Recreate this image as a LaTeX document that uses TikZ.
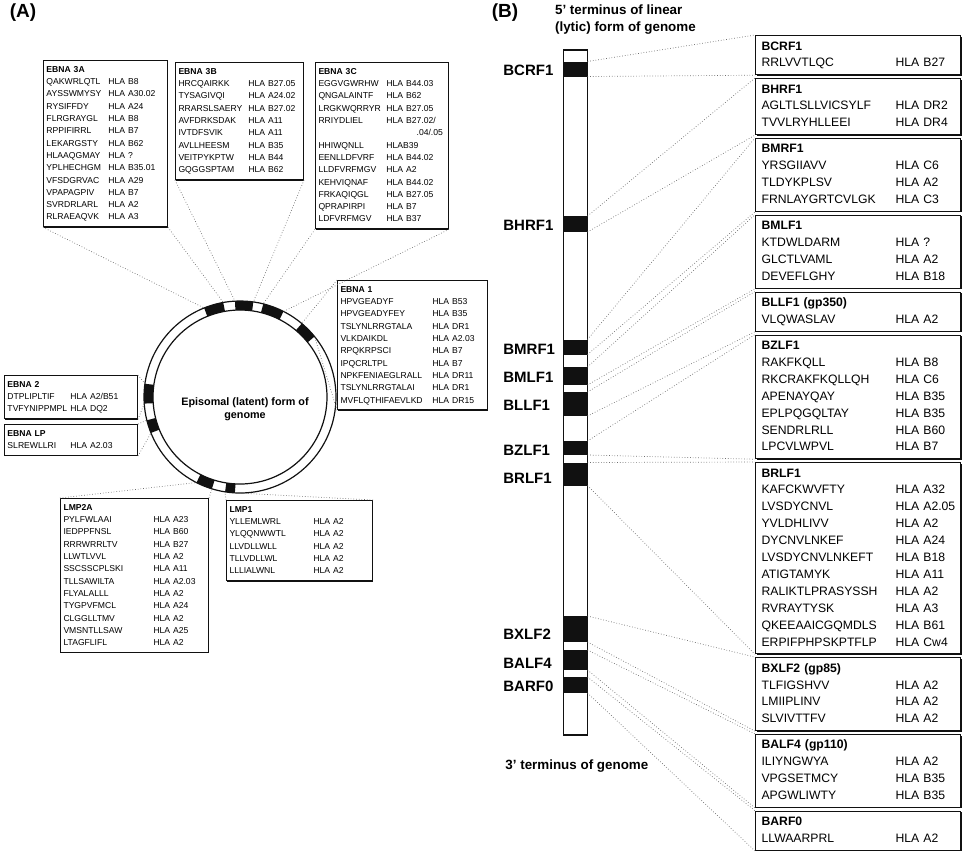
\documentclass[tikz,border=0pt]{standalone}
\usepackage{fontspec}
\setmainfont{Liberation Sans}
\usepackage{xcolor}
\usepackage{tikz}
\usetikzlibrary{shadows}
\definecolor{hlaInk}{HTML}{111111}
\definecolor{leadGray}{HTML}{6E6E6E}
\tikzset{
  lbox/.style={draw=hlaInk, fill=white, line width=0.5pt, anchor=north west, inner xsep=1.5pt, inner ysep=1.6pt,
    drop shadow={shadow xshift=0.45pt, shadow yshift=-0.45pt, fill=hlaInk, opacity=1},
    font=\fontsize{4.3pt}{6.15pt}\selectfont},
  rbox/.style={draw=hlaInk, fill=white, line width=0.6pt, anchor=north west, inner xsep=3pt, inner ysep=1.3pt, text width=96.5pt,
    drop shadow={shadow xshift=0.5pt, shadow yshift=-0.5pt, fill=hlaInk, opacity=1},
    font=\fontsize{6.1pt}{8.45pt}\selectfont},
  lead/.style={leadGray, densely dotted, line width=0.35pt},
  band/.style={fill=hlaInk, inner sep=0pt, outer sep=0pt, minimum width=12pt},
  genename/.style={anchor=west, inner xsep=0pt, font=\bfseries\fontsize{7.5pt}{9pt}\selectfont},
  panellbl/.style={font=\bfseries\fontsize{9.5pt}{11pt}\selectfont},
}
\newcommand{\genehead}[1]{\multicolumn{2}{@{}l@{}}{\bfseries #1}}

\begin{document}
\begin{tikzpicture}[x=0.5pt, y=-0.5pt]
  \useasboundingbox (0,0) rectangle (965,859);

  % (A) episomal genome
  \node[panellbl] (labA) at (23,13) {(A)};
  \coordinate (ctr) at (240,397);
  \draw[hlaInk, line width=0.6pt] (ctr) circle (96);
  \draw[hlaInk, line width=0.6pt] (ctr) circle (87);
  \draw[hlaInk, line width=4.5pt] (ctr) ++(-112:91.5) arc[start angle=-112, end angle=-100, radius=91.5];
  \draw[hlaInk, line width=4.5pt] (ctr) ++(-93:91.5) arc[start angle=-93, end angle=-82, radius=91.5];
  \draw[hlaInk, line width=4.5pt] (ctr) ++(-76:91.5) arc[start angle=-76, end angle=-63, radius=91.5];
  \draw[hlaInk, line width=4.5pt] (ctr) ++(-50:91.5) arc[start angle=-50, end angle=-39, radius=91.5];
  \draw[hlaInk, line width=4.5pt] (ctr) ++(-184:91.5) arc[start angle=-184, end angle=-172, radius=91.5];
  \draw[hlaInk, line width=4.5pt] (ctr) ++(-202:91.5) arc[start angle=-202, end angle=-194, radius=91.5];
  \draw[hlaInk, line width=4.5pt] (ctr) ++(-253:91.5) arc[start angle=-253, end angle=-243, radius=91.5];
  \draw[hlaInk, line width=4.5pt] (ctr) ++(-267:91.5) arc[start angle=-267, end angle=-261, radius=91.5];
  \node[font=\bfseries\fontsize{5.4pt}{6.3pt}\selectfont, align=center] (epi) at (245,409) {Episomal (latent) form of\\genome};

  \path (ctr) ++(-112:96) coordinate (e3aL);
  \path (ctr) ++(-100:96) coordinate (e3aR);
  \path (ctr) ++(-93:96) coordinate (e3bL);
  \path (ctr) ++(-82:96) coordinate (e3bR);
  \path (ctr) ++(-76:96) coordinate (e3cL);
  \path (ctr) ++(-63:96) coordinate (e3cR);
  \path (ctr) ++(-50:96) coordinate (e1T);
  \path (ctr) ++(-39:96) coordinate (e1B);
  \path (ctr) ++(-172:96) coordinate (e2T);
  \path (ctr) ++(-184:96) coordinate (e2B);
  \path (ctr) ++(-194:96) coordinate (lpT);
  \path (ctr) ++(-202:96) coordinate (lpB);
  \path (ctr) ++(-243:96) coordinate (lmp2L);
  \path (ctr) ++(-253:96) coordinate (lmp2R);
  \path (ctr) ++(-261:96) coordinate (lmp1L);
  \path (ctr) ++(-267:96) coordinate (lmp1R);

  \node[lbox, text width=59pt] (ebna3a) at (43,60) {\begin{tabular}{@{}p{31pt}@{}l@{}}
    \genehead{EBNA 3A}\\
    QAKWRLQTL & HLA B8\\
    AYSSWMYSY & HLA A30.02\\
    RYSIFFDY & HLA A24\\
    FLRGRAYGL & HLA B8\\
    RPPIFIRRL & HLA B7\\
    LEKARGSTY & HLA B62\\
    HLAAQGMAY & HLA ?\\
    YPLHECHGM & HLA B35.01\\
    VFSDGRVAC & HLA A29\\
    VPAPAGPIV & HLA B7\\
    SVRDRLARL & HLA A2\\
    RLRAEAQVK & HLA A3
  \end{tabular}};
  \node[lbox, text width=61pt] (ebna3b) at (175,62) {\begin{tabular}{@{}p{35pt}@{}l@{}}
    \genehead{EBNA 3B}\\
    HRCQAIRKK & HLA B27.05\\
    TYSAGIVQI & HLA A24.02\\
    RRARSLSAERY & HLA B27.02\\
    AVFDRKSDAK & HLA A11\\
    IVTDFSVIK & HLA A11\\
    AVLLHEESM & HLA B35\\
    VEITPYKPTW & HLA B44\\
    GQGGSPTAM & HLA B62
  \end{tabular}};
  \node[lbox, text width=63.5pt] (ebna3c) at (315,62) {\begin{tabular}{@{}p{34pt}@{}l@{}}
    \genehead{EBNA 3C}\\
    EGGVGWRHW & HLA B44.03\\
    QNGALAINTF & HLA B62\\
    LRGKWQRRYR & HLA B27.05\\
    RRIYDLIEL & HLA B27.02/\\
     & \phantom{HLA B2}.04/.05\\
    HHIWQNLL & HLAB39\\
    EENLLDFVRF & HLA B44.02\\
    LLDFVRFMGV & HLA A2\\
    KEHVIQNAF & HLA B44.02\\
    FRKAQIQGL & HLA B27.05\\
    QPRAPIRPI & HLA B7\\
    LDFVRFMGV & HLA B37
  \end{tabular}};
  \node[lbox, text width=72pt] (ebna1) at (337,280) {\begin{tabular}{@{}p{46pt}@{}l@{}}
    \genehead{EBNA 1}\\
    HPVGEADYF & HLA B53\\
    HPVGEADYFEY & HLA B35\\
    TSLYNLRRGTALA & HLA DR1\\
    VLKDAIKDL & HLA A2.03\\
    RPQKRPSCI & HLA B7\\
    IPQCRLTPL & HLA B7\\
    NPKFENIAEGLRALL & HLA DR11\\
    TSLYNLRRGTALAI & HLA DR1\\
    MVFLQTHIFAEVLKD & HLA DR15
  \end{tabular}};
  \node[lbox, text width=63.5pt] (ebna2) at (4,375) {\begin{tabular}{@{}p{31.5pt}@{}l@{}}
    \genehead{EBNA 2}\\
    DTPLIPLTIF & HLA A2/B51\\
    TVFYNIPPMPL & HLA DQ2
  \end{tabular}};
  \node[lbox, text width=63.5pt] (ebnalp) at (4,424) {\begin{tabular}{@{}p{31.5pt}@{}l@{}}
    \genehead{EBNA LP}\\
    SLREWLLRI & HLA A2.03
  \end{tabular}};
  \node[lbox, text width=71pt] (lmp2a) at (60,498) {\begin{tabular}{@{}p{45pt}@{}l@{}}
    \genehead{LMP2A}\\
    PYLFWLAAI & HLA A23\\
    IEDPPFNSL & HLA B60\\
    RRRWRRLTV & HLA B27\\
    LLWTLVVL & HLA A2\\
    SSCSSCPLSKI & HLA A11\\
    TLLSAWILTA & HLA A2.03\\
    FLYALALLL & HLA A2\\
    TYGPVFMCL & HLA A24\\
    CLGGLLTMV & HLA A2\\
    VMSNTLLSAW & HLA A25\\
    LTAGFLIFL & HLA A2
  \end{tabular}};
  \node[lbox, text width=70pt] (lmp1) at (226,500) {\begin{tabular}{@{}p{42pt}@{}l@{}}
    \genehead{LMP1}\\
    YLLEMLWRL & HLA A2\\
    YLQQNWWTL & HLA A2\\
    LLVDLLWLL & HLA A2\\
    TLLVDLLWL & HLA A2\\
    LLLIALWNL & HLA A2
  \end{tabular}};

  \draw[lead] (ebna3a.south west) -- (e3aL);
  \draw[lead] (ebna3a.south east) -- (e3aR);
  \draw[lead] (ebna3b.south west) -- (e3bL);
  \draw[lead] (ebna3b.south east) -- (e3bR);
  \draw[lead] (ebna3c.south west) -- (e3cL);
  \draw[lead] (ebna3c.south east) -- (e3cR);
  \draw[lead] (ebna1.north west) -- (e1T);
  \draw[lead] (ebna1.south west) -- (e1B);
  \draw[lead] (ebna2.north east) -- (e2T);
  \draw[lead] (ebna2.south east) -- (e2B);
  \draw[lead] (ebnalp.north east) -- (lpT);
  \draw[lead] (ebnalp.south east) -- (lpB);
  \draw[lead] (lmp2a.north west) -- (lmp2L);
  \draw[lead] (lmp2a.north east) -- (lmp2R);
  \draw[lead] (lmp1.north west) -- (lmp1L);
  \draw[lead] (lmp1.north east) -- (lmp1R);

  % (B) linear genome
  \node[panellbl] (labB) at (505,13) {(B)};
  \node[anchor=west, align=left, font=\bfseries\fontsize{6.7pt}{8.5pt}\selectfont] (fiveend) at (548,20) {5' terminus of linear\\(lytic) form of genome};
  \node[anchor=west, inner xsep=0pt, font=\bfseries\fontsize{6.7pt}{8.5pt}\selectfont] (threeend) at (505,766) {3' terminus of genome};
  \node[draw=hlaInk, line width=0.75pt, minimum width=12pt, minimum height=342.5pt, inner sep=0pt] (bar) at (575.5,392.5) {};

  \node[band, minimum height=7.5pt] (bcrf) at (575.5,69) {};
  \node[band, minimum height=8pt] (bhrf) at (575.5,224) {};
  \node[band, minimum height=7.5pt] (bmrf) at (575.5,347) {};
  \node[band, minimum height=9pt] (bmlf) at (575.5,376) {};
  \node[band, minimum height=12pt] (bllf) at (575.5,404) {};
  \node[band, minimum height=7pt] (bzlf) at (575.5,448) {};
  \node[band, minimum height=11.5pt] (brlf) at (575.5,474) {};
  \node[band, minimum height=13pt] (bxlf) at (575.5,629) {};
  \node[band, minimum height=10pt] (balf) at (575.5,660) {};
  \node[band, minimum height=8pt] (barf) at (575.5,685) {};

  \node[genename] (bcrfname) at (503,70) {BCRF1};
  \node[genename] (bhrfname) at (503,225) {BHRF1};
  \node[genename] (bmrfname) at (503,349) {BMRF1};
  \node[genename] (bmlfname) at (503,377) {BMLF1};
  \node[genename] (bllfname) at (503,405) {BLLF1};
  \node[genename] (bzlfname) at (503,450) {BZLF1};
  \node[genename] (brlfname) at (503,478) {BRLF1};
  \node[genename] (bxlfname) at (503,634) {BXLF2};
  \node[genename] (balfname) at (503,663) {BALF4};
  \node[genename] (barfname) at (503,686) {BARF0};

  \node[rbox] (bcrfbox) at (755,35) {\begin{tabular}{@{}p{67pt}@{}l@{}}
    \genehead{BCRF1}\\
    RRLVVTLQC & HLA B27
  \end{tabular}};
  \node[rbox] (bhrfbox) at (755,78) {\begin{tabular}{@{}p{67pt}@{}l@{}}
    \genehead{BHRF1}\\
    AGLTLSLLVICSYLF & HLA DR2\\
    TVVLRYHLLEEI & HLA DR4
  \end{tabular}};
  \node[rbox] (bmrfbox) at (755,137.9) {\begin{tabular}{@{}p{67pt}@{}l@{}}
    \genehead{BMRF1}\\
    YRSGIIAVV & HLA C6\\
    TLDYKPLSV & HLA A2\\
    FRNLAYGRTCVLGK & HLA C3
  \end{tabular}};
  \node[rbox] (bmlfbox) at (755,214.7) {\begin{tabular}{@{}p{67pt}@{}l@{}}
    \genehead{BMLF1}\\
    KTDWLDARM & HLA ?\\
    GLCTLVAML & HLA A2\\
    DEVEFLGHY & HLA B18
  \end{tabular}};
  \node[rbox] (bllfbox) at (755,291.5) {\begin{tabular}{@{}p{67pt}@{}l@{}}
    \genehead{BLLF1 (gp350)}\\
    VLQWASLAV & HLA A2
  \end{tabular}};
  \node[rbox] (bzlfbox) at (755,334.5) {\begin{tabular}{@{}p{67pt}@{}l@{}}
    \genehead{BZLF1}\\
    RAKFKQLL & HLA B8\\
    RKCRAKFKQLLQH & HLA C6\\
    APENAYQAY & HLA B35\\
    EPLPQGQLTAY & HLA B35\\
    SENDRLRLL & HLA B60\\
    LPCVLWPVL & HLA B7
  \end{tabular}};
  \node[rbox] (brlfbox) at (755,462) {\begin{tabular}{@{}p{67pt}@{}l@{}}
    \genehead{BRLF1}\\
    KAFCKWVFTY & HLA A32\\
    LVSDYCNVL & HLA A2.05\\
    YVLDHLIVV & HLA A2\\
    DYCNVLNKEF & HLA A24\\
    LVSDYCNVLNKEFT & HLA B18\\
    ATIGTAMYK & HLA A11\\
    RALIKTLPRASYSSH & HLA A2\\
    RVRAYTYSK & HLA A3\\
    QKEEAAICGQMDLS & HLA B61\\
    ERPIFPHPSKPTFLP & HLA Cw4
  \end{tabular}};
  \node[rbox] (bxlfbox) at (755,657.1) {\begin{tabular}{@{}p{67pt}@{}l@{}}
    \genehead{BXLF2 (gp85)}\\
    TLFIGSHVV & HLA A2\\
    LMIIPLINV & HLA A2\\
    SLVIVTTFV & HLA A2
  \end{tabular}};
  \node[rbox] (balfbox) at (755,733.9) {\begin{tabular}{@{}p{67pt}@{}l@{}}
    \genehead{BALF4 (gp110)}\\
    ILIYNGWYA & HLA A2\\
    VPGSETMCY & HLA B35\\
    APGWLIWTY & HLA B35
  \end{tabular}};
  \node[rbox] (barfbox) at (755,810.7) {\begin{tabular}{@{}p{67pt}@{}l@{}}
    \genehead{BARF0}\\
    LLWAARPRL & HLA A2
  \end{tabular}};

  \draw[lead] (bcrf.north east) -- (bcrfbox.north west);
  \draw[lead] (bcrf.south east) -- (bcrfbox.south west);
  \draw[lead] (bhrf.north east) -- (bhrfbox.north west);
  \draw[lead] (bhrf.south east) -- (bhrfbox.south west);
  \draw[lead] (bmrf.north east) -- (bmrfbox.north west);
  \draw[lead] (bmrf.south east) -- (bmrfbox.south west);
  \draw[lead] (bmlf.north east) -- (bmlfbox.north west);
  \draw[lead] (bmlf.south east) -- (bmlfbox.south west);
  \draw[lead] (bllf.north east) -- (bllfbox.north west);
  \draw[lead] (bllf.south east) -- (bllfbox.south west);
  \draw[lead] (bzlf.north east) -- (bzlfbox.north west);
  \draw[lead] (bzlf.south east) -- (bzlfbox.south west);
  \draw[lead] (brlf.north east) -- (brlfbox.north west);
  \draw[lead] (brlf.south east) -- (brlfbox.south west);
  \draw[lead] (bxlf.north east) -- (bxlfbox.north west);
  \draw[lead] (bxlf.south east) -- (bxlfbox.south west);
  \draw[lead] (balf.north east) -- (balfbox.north west);
  \draw[lead] (balf.south east) -- (balfbox.south west);
  \draw[lead] (barf.north east) -- (barfbox.north west);
  \draw[lead] (barf.south east) -- (barfbox.south west);
\end{tikzpicture}
\end{document}
